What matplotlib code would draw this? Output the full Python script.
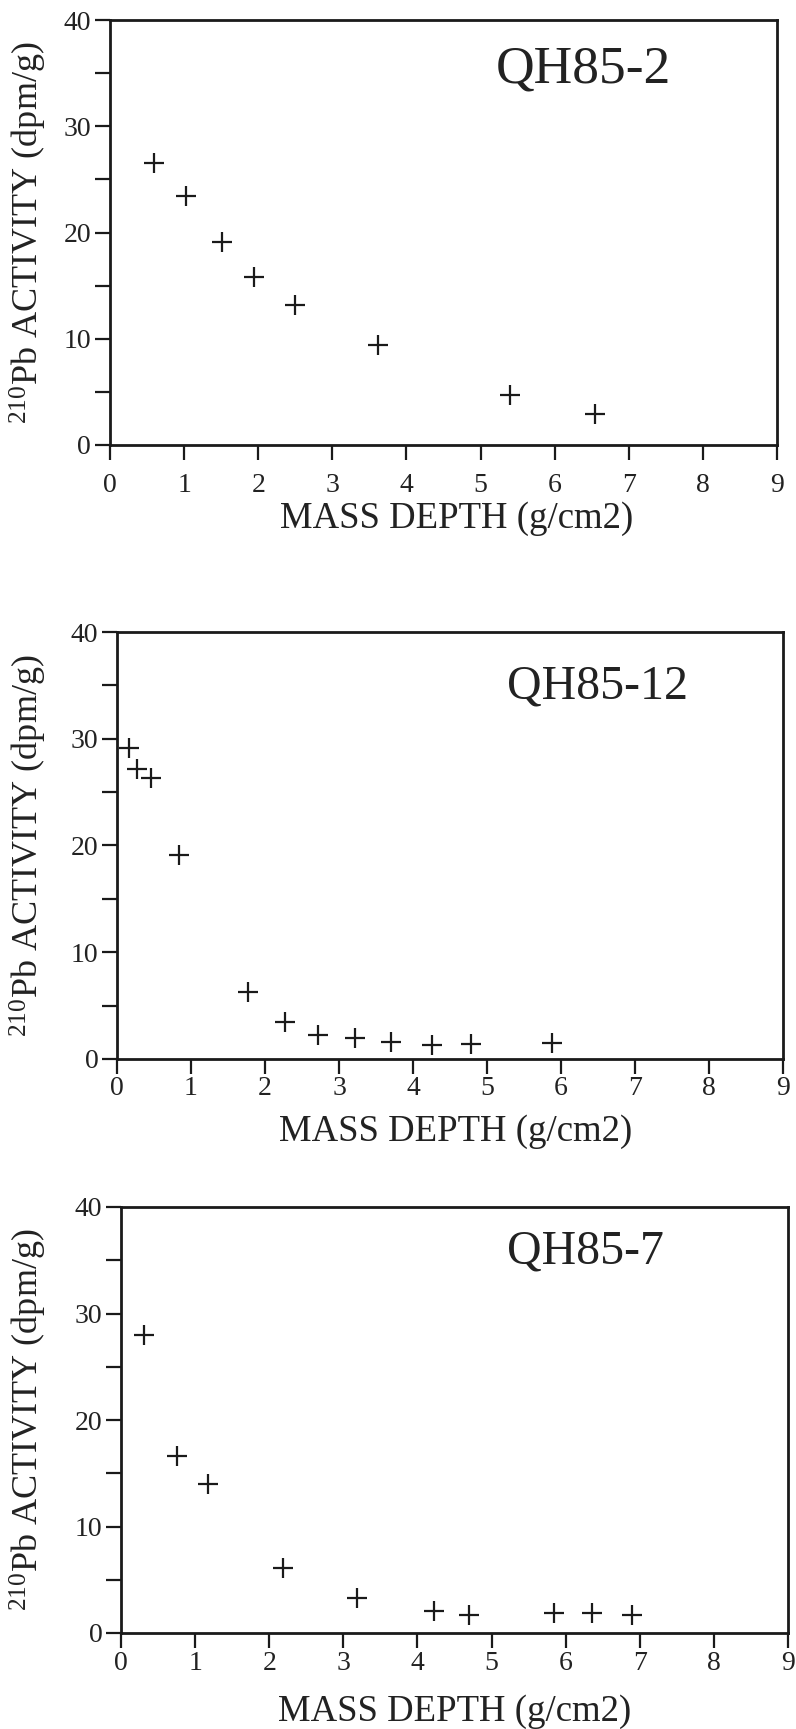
import matplotlib
matplotlib.use("Agg")
import matplotlib.pyplot as plt
from matplotlib.ticker import MultipleLocator

plt.rcParams['font.family'] = ['Liberation Serif', 'DejaVu Serif']
plt.rcParams['mathtext.default'] = 'regular'

# ---- data ----
names = ["QH85-2", "QH85-12", "QH85-7"]
depth_qh85_2 = [0.60, 1.03, 1.51, 1.94, 2.49, 3.61, 5.40, 6.54]
act_qh85_2 = [26.5, 23.4, 19.1, 15.8, 13.2, 9.4, 4.7, 2.9]
depth_qh85_12 = [0.16, 0.27, 0.46, 0.84, 1.77, 2.27, 2.72, 3.21, 3.70, 4.26, 4.78, 5.88]
act_qh85_12 = [29.1, 27.2, 26.3, 19.1, 6.3, 3.5, 2.25, 2.0, 1.6, 1.35, 1.45, 1.5]
depth_qh85_7 = [0.31, 0.75, 1.18, 2.18, 3.18, 4.23, 4.70, 5.84, 6.36, 6.90]
act_qh85_7 = [28.0, 16.6, 14.0, 6.1, 3.3, 2.1, 1.7, 1.9, 1.9, 1.7]
xlabel = "MASS DEPTH (g/cm2)"
ylabel = "$^{210}$Pb ACTIVITY (dpm/g)"

datasets = [(depth_qh85_2, act_qh85_2), (depth_qh85_12, act_qh85_12), (depth_qh85_7, act_qh85_7)]

W, H = 796, 1729
fig = plt.figure(figsize=(W / 100, H / 100), dpi=100)

# axes boxes in pixels: left, right, top, bottom
boxes = [(110, 777, 20, 445), (117, 783, 632, 1059), (121, 788, 1207, 1633)]
title_pos = [(0.578, 0.852), (0.585, 0.845), (0.578, 0.868)]
title_size = [38.5, 34.5, 34.5]
xpad = [9.5, 1.8, 2.2]
xlab_pos = [(0.52, -0.132), (0.509, -0.129), (0.50, -0.143)]
ink = "#1a1a1a"

for i, ((l, r, t, b), name, (xs, ys)) in enumerate(zip(boxes, names, datasets)):
    ax = fig.add_axes([l / W, 1 - b / H, (r - l) / W, (b - t) / H])
    ax.plot(xs, ys, linestyle="none", marker="+", markersize=14,
            markeredgewidth=1.6, color=ink)
    ax.set_xlim(0, 9)
    ax.set_ylim(0, 40)
    ax.xaxis.set_major_locator(MultipleLocator(1))
    ax.yaxis.set_major_locator(MultipleLocator(10))
    ax.yaxis.set_minor_locator(MultipleLocator(5))
    for s in ax.spines.values():
        s.set_linewidth(2.0)
        s.set_color(ink)
    ax.tick_params(axis="both", which="both", direction="out", length=10.5,
                   width=1.6, color=ink, labelsize=20, labelcolor="#222222")
    ax.tick_params(axis="x", pad=xpad[i])
    ax.tick_params(axis="y", pad=3)
    ax.tick_params(top=False, right=False)
    ax.set_xlabel(xlabel, fontsize=26.5, color="#222222")
    ax.xaxis.set_label_coords(*xlab_pos[i])
    ax.set_ylabel(ylabel, fontsize=26, color="#222222")
    ax.yaxis.set_label_coords((49 - l) / (r - l), 0.5)
    tx, ty = title_pos[i]
    ax.text(tx, ty, name, transform=ax.transAxes, fontsize=title_size[i],
            ha="left", va="baseline", color="#222222")

fig.savefig("out.png", dpi=100)
